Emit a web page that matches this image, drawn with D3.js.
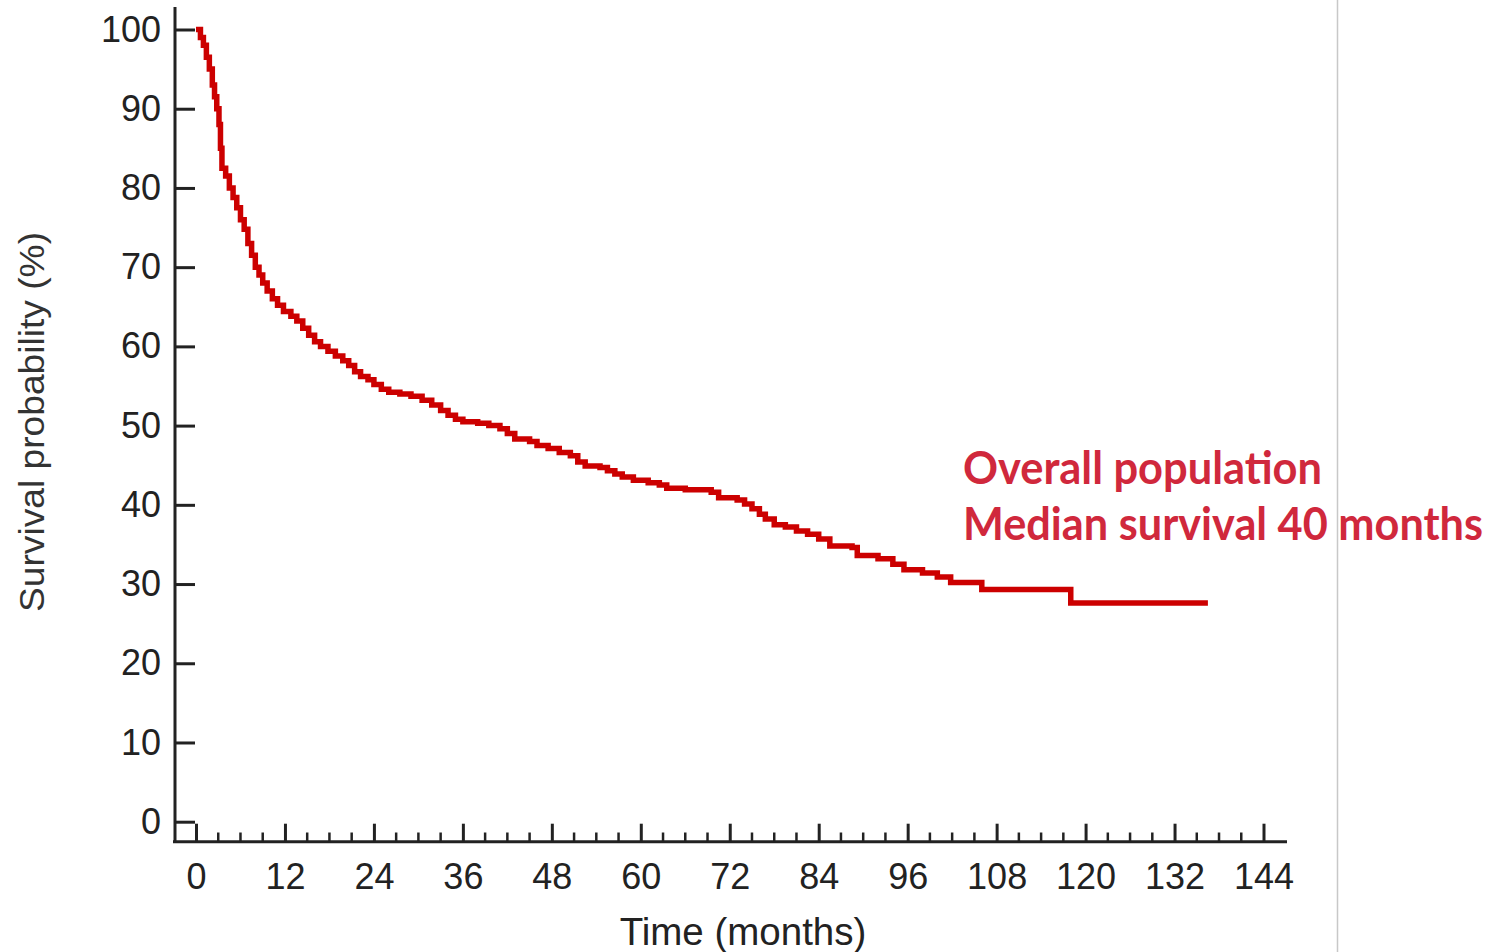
<!DOCTYPE html>
<html>
<head>
<meta charset="utf-8">
<script src="https://cdn.jsdelivr.net/npm/d3@7"></script>
<style>
  html, body { margin: 0; padding: 0; background: #fff; }
  svg { display: block; }
</style>
</head>
<body>
<svg id="chart" width="1494" height="952"></svg>
<script>
// Kaplan–Meier step curve: event times (months) and survival (%)
const months = [0, 0.6, 1.0, 1.4, 1.8, 2.2, 2.5, 2.8, 3.1, 3.3, 3.5, 4.0, 4.5, 5.0, 5.5, 6.0, 6.5, 7.0, 7.5, 8.0,
  8.5, 9.0, 9.6, 10.3, 11.0, 11.8, 12.8, 13.6, 14.4, 15.2, 16.0, 16.8, 17.8, 18.8, 19.8, 20.6, 21.4, 22.2, 23.2, 24.0,
  25.0, 26.0, 27.5, 29.0, 30.5, 31.8, 33.0, 34.0, 35.0, 36.0, 38.0, 39.5, 41.0, 42.0, 43.0, 45.0, 46.0, 47.5, 49.0, 50.5,
  51.5, 52.5, 54.5, 55.5, 56.5, 57.5, 59.0, 61.0, 62.5, 63.5, 66.0, 69.5, 70.5, 73.0, 74.0, 75.0, 76.0, 76.8, 78.0, 79.5,
  81.0, 82.5, 84.0, 85.5, 88.5, 89.2, 92.0, 94.0, 95.5, 98.0, 100.0, 101.8, 106.0, 118.0, 136.5];
const survival = [100, 99, 98, 96.5, 95, 93, 91.5, 90, 88, 85, 82.5, 81.5, 80, 78.8, 77.5, 76, 74.8, 73, 71.5, 70,
  69, 68, 67, 66, 65.2, 64.4, 63.8, 63.2, 62.3, 61.4, 60.6, 60, 59.4, 58.8, 58.2, 57.6, 56.8, 56.2, 55.8, 55.2,
  54.6, 54.2, 54, 53.7, 53.2, 52.6, 51.9, 51.3, 50.8, 50.5, 50.3, 50, 49.6, 49, 48.3, 48, 47.5, 47.1, 46.6, 46.2,
  45.4, 44.9, 44.7, 44.3, 43.9, 43.5, 43.1, 42.8, 42.5, 42.1, 41.9, 41.6, 40.9, 40.6, 40.1, 39.5, 38.8, 38.2, 37.5, 37.2,
  36.7, 36.3, 35.7, 34.8, 34.6, 33.6, 33.2, 32.5, 31.8, 31.4, 30.9, 30.2, 29.3, 27.6, 27.6];

const xTicks = [0, 12, 24, 36, 48, 60, 72, 84, 96, 108, 120, 132, 144];
const xMinorTicks = d3.range(0, 145, 3).filter(d => d % 12 !== 0);
const yTicks = [0, 10, 20, 30, 40, 50, 60, 70, 80, 90, 100];

const xTitle = "Time (months)";
const yTitle = "Survival probability (%)";
const noteLines = ["Overall population", "Median survival 40 months"];

const svg = d3.select("#chart");
const x = d3.scaleLinear().domain([0, 144]).range([196, 1263.5]);
const y = d3.scaleLinear().domain([0, 100]).range([821.7, 29.5]);

const axisColor = "#222";
const tickFont = "'Liberation Sans', Arial, sans-serif";

// thin divider on the right
svg.append("line")
  .attr("x1", 1337.5).attr("x2", 1337.5).attr("y1", 0).attr("y2", 952)
  .attr("stroke", "#c8c8c8").attr("stroke-width", 1.5);

// axis lines
svg.append("line")
  .attr("x1", 175).attr("x2", 175).attr("y1", 7).attr("y2", 843)
  .attr("stroke", axisColor).attr("stroke-width", 3);
svg.append("line")
  .attr("x1", 173).attr("x2", 1287).attr("y1", 841.7).attr("y2", 841.7)
  .attr("stroke", axisColor).attr("stroke-width", 3);

// y axis ticks and labels
const yAxis = d3.axisLeft(y).tickValues(yTicks).tickSize(-20).tickPadding(14).tickFormat(d3.format("d"));
const gy = svg.append("g").attr("transform", "translate(175,0)").call(yAxis);
gy.select(".domain").remove();
gy.selectAll(".tick line").attr("stroke", axisColor).attr("stroke-width", 3);
gy.selectAll(".tick text")
  .attr("fill", axisColor).style("font-family", tickFont).style("font-size", "36px")
  .attr("x", -14);

// x axis ticks and labels
const xAxis = d3.axisBottom(x).tickValues(xTicks).tickSize(-18).tickPadding(22).tickFormat(d3.format("d"));
const gx = svg.append("g").attr("transform", "translate(0,841.7)").call(xAxis);
gx.select(".domain").remove();
gx.selectAll(".tick line").attr("stroke", axisColor).attr("stroke-width", 3);
gx.selectAll(".tick text")
  .attr("fill", axisColor).style("font-family", tickFont).style("font-size", "36px");

// minor x ticks
svg.append("g").selectAll("line").data(xMinorTicks).join("line")
  .attr("x1", d => x(d)).attr("x2", d => x(d))
  .attr("y1", 841.7).attr("y2", 832.5)
  .attr("stroke", axisColor).attr("stroke-width", 2.5);

// axis titles
svg.append("text")
  .attr("x", 743).attr("y", 945)
  .attr("text-anchor", "middle")
  .attr("fill", axisColor)
  .style("font-family", tickFont).style("font-size", "38.5px")
  .text(xTitle);
svg.append("text")
  .attr("transform", "translate(44,422) rotate(-90)")
  .attr("text-anchor", "middle")
  .attr("fill", "#333")
  .attr("textLength", 380)
  .attr("lengthAdjust", "spacingAndGlyphs")
  .style("font-family", tickFont).style("font-size", "35px")
  .text(yTitle);

// survival curve
const pts = months.map((m, i) => [m, survival[i]]);
const line = d3.line().x(d => x(d[0])).y(d => y(d[1])).curve(d3.curveStepAfter);
svg.append("path")
  .datum(pts)
  .attr("d", line)
  .attr("fill", "none")
  .attr("stroke", "#cc0000")
  .attr("stroke-width", 5.5)
  .attr("stroke-linejoin", "miter");

// annotation
const noteX = 963;
const noteY = [484, 540];
const noteWidths = [359, 520];
svg.append("g").selectAll("text").data(noteLines).join("text")
  .attr("x", noteX)
  .attr("y", (d, i) => noteY[i])
  .attr("fill", "#d0283c")
  .attr("textLength", (d, i) => noteWidths[i])
  .attr("lengthAdjust", "spacingAndGlyphs")
  .style("font-family", "Lato, 'Open Sans', sans-serif")
  .style("font-weight", "bold")
  .style("font-size", "45px")
  .text(d => d);
</script>
</body>
</html>
